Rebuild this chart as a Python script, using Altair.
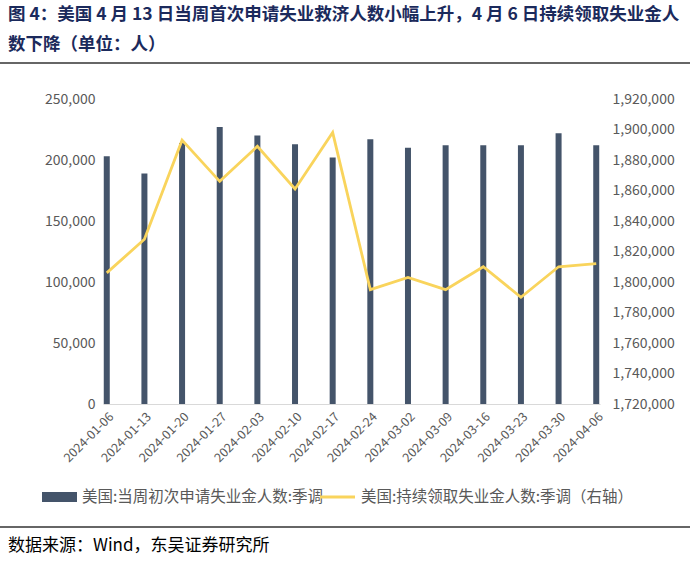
import altair as alt
import pandas as pd

dates = ["2024-01-06", "2024-01-13", "2024-01-20", "2024-01-27", "2024-02-03",
         "2024-02-10", "2024-02-17", "2024-02-24", "2024-03-02", "2024-03-09",
         "2024-03-16", "2024-03-23", "2024-03-30", "2024-04-06"]
initial_claims = [203000, 189000, 214000, 227000, 220000, 213000, 202000,
                  217000, 210000, 212000, 212000, 212000, 222000, 212000]
continuing_claims = [1806000, 1828000, 1893000, 1866000, 1889000, 1861000, 1898000,
                     1795000, 1803000, 1795000, 1810000, 1790000, 1810000, 1812000]
left_ticks = [0, 50000, 100000, 150000, 200000, 250000]
right_ticks = [1720000, 1740000, 1760000, 1780000, 1800000, 1820000, 1840000,
               1860000, 1880000, 1900000, 1920000]
series_names = ["美国:当周初次申请失业金人数:季调", "美国:持续领取失业金人数:季调（右轴）"]
title_lines = ["图 4：美国 4 月 13 日当周首次申请失业救济人数小幅上升，4 月 6 日持续领取失业金人",
               "数下降（单位：人）"]
source_text = ["数据来源：Wind，东吴证券研究所"]

FONT = "Noto Sans CJK SC"
BAR = "#44546A"
LINE = "#F9D45C"
GREY = "#595959"

df = pd.DataFrame({"date": dates, "initial": initial_claims, "continuing": continuing_claims})

x_enc = alt.X("date:O", sort=None,
              scale=alt.Scale(type="point", padding=0.1),
              axis=alt.Axis(title=None, labelAngle=-45, labelFontSize=12.5, labelColor=GREY,
                            labelFont=FONT, domainColor="#d9d9d9", ticks=False,
                            labelPadding=6))

bars = alt.Chart(df).mark_bar(color=BAR, size=6).encode(
    x=x_enc,
    y=alt.Y("initial:Q", scale=alt.Scale(domain=[0, 250000], nice=False),
            axis=alt.Axis(title=None, orient="left", values=left_ticks, format=",d",
                          grid=False, domain=False, ticks=False, labelPadding=8,
                          labelFontSize=14, labelColor=GREY, labelFont=FONT)),
)

line = alt.Chart(df).mark_line(color=LINE, strokeWidth=2.8).encode(
    x=x_enc,
    y=alt.Y("continuing:Q", scale=alt.Scale(domain=[1720000, 1920000], nice=False),
            axis=alt.Axis(title=None, orient="right", values=right_ticks, format=",d",
                          grid=False, domain=False, ticks=False, labelPadding=12,
                          labelFontSize=14, labelColor=GREY, labelFont=FONT)),
)

t1 = alt.Chart(pd.DataFrame({"t": [title_lines[0]]})).mark_text(
    align="left", baseline="middle", font=FONT, fontSize=17.5, fontWeight="bold",
    color="#1B2A5C").encode(text="t:N", x=alt.value(-95), y=alt.value(-84))
t2 = alt.Chart(pd.DataFrame({"t": [title_lines[1]]})).mark_text(
    align="left", baseline="middle", font=FONT, fontSize=17.5, fontWeight="bold",
    color="#1B2A5C").encode(text="t:N", x=alt.value(-95), y=alt.value(-54))
top_rule = alt.Chart(pd.DataFrame({"a": [0]})).mark_rule(color="#333333", strokeWidth=1.5).encode(
    x=alt.value(-103), x2=alt.value(587), y=alt.value(-36))
bottom_rule = alt.Chart(pd.DataFrame({"a": [0]})).mark_rule(color="#333333", strokeWidth=1.5).encode(
    x=alt.value(-103), x2=alt.value(587), y=alt.value(428))
src = alt.Chart(pd.DataFrame({"t": source_text})).mark_text(
    align="left", baseline="middle", font=FONT, fontSize=17, color="#000000").encode(
    text="t:N", x=alt.value(-95), y=alt.value(447))

leg_rect = alt.Chart(pd.DataFrame({"a": [0]})).mark_rect(color=BAR).encode(
    x=alt.value(-61), x2=alt.value(-26), y=alt.value(393), y2=alt.value(403))
leg_t1 = alt.Chart(pd.DataFrame({"t": [series_names[0]]})).mark_text(
    align="left", baseline="middle", font=FONT, fontSize=15.5, color=GREY).encode(
    text="t:N", x=alt.value(-21), y=alt.value(398))
leg_line = alt.Chart(pd.DataFrame({"a": [0]})).mark_rule(color=LINE, strokeWidth=3).encode(
    x=alt.value(217), x2=alt.value(252), y=alt.value(398))
leg_t2 = alt.Chart(pd.DataFrame({"t": [series_names[1]]})).mark_text(
    align="left", baseline="middle", font=FONT, fontSize=15.5, color=GREY).encode(
    text="t:N", x=alt.value(258), y=alt.value(398))

chart = alt.layer(bars, line, t1, t2, top_rule, bottom_rule, src,
                  leg_rect, leg_t1, leg_line, leg_t2).resolve_scale(
    y="independent").properties(
    width=497, height=305,
    autosize=alt.AutoSizeParams(type="none"),
    padding={"left": 103, "top": 99, "right": 100, "bottom": 158},
    background="white",
).configure_view(stroke=None)

chart.save("out.html", embed_options={"renderer": "svg", "actions": False})
